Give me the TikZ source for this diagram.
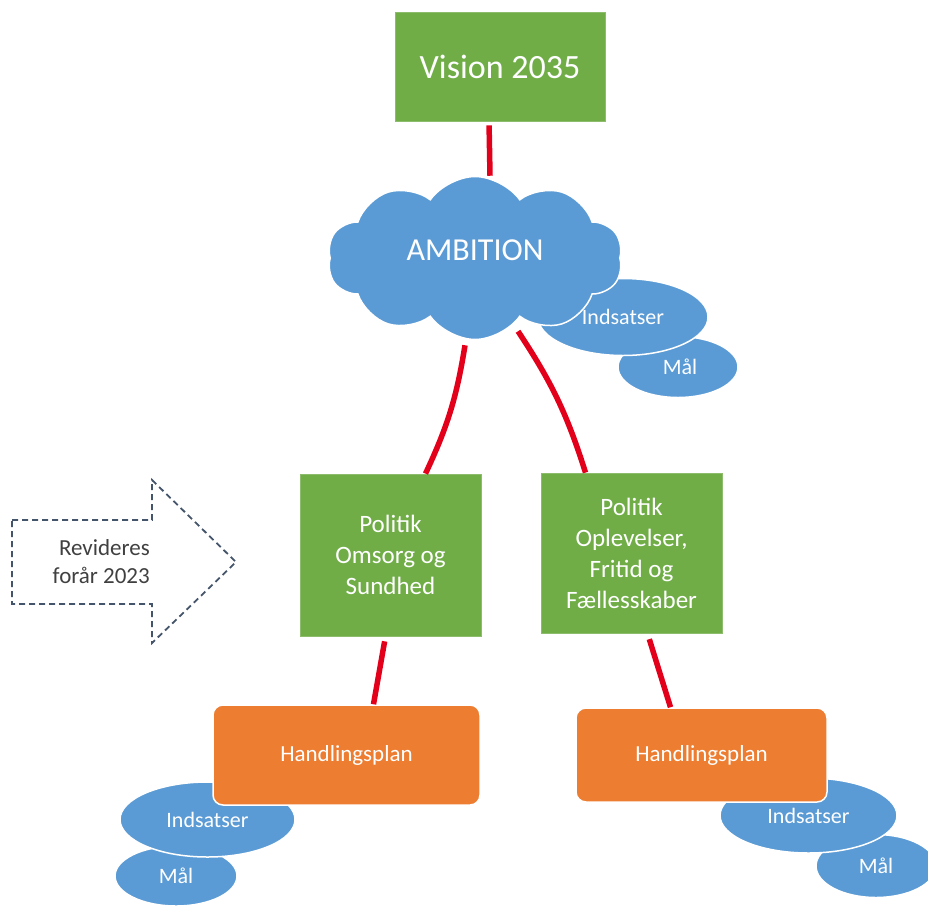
\documentclass[tikz,border=0pt]{standalone}
\usepackage{fontspec}
\setmainfont{Carlito}
\usetikzlibrary{shapes.symbols,shapes.geometric}
\definecolor{kgreen}{HTML}{70AD47}
\definecolor{kblue}{HTML}{5B9BD5}
\definecolor{korange}{HTML}{ED7D31}
\definecolor{kred}{HTML}{E2001A}
\definecolor{kslate}{HTML}{44546A}
\begin{document}
\begin{tikzpicture}[x=1pt, y=-1pt,
    every node/.style={text=white, inner sep=0pt},
    greenbox/.style={rectangle, fill=kgreen, draw=kgreen!80!white, line width=0.8pt, align=center, font=\fontsize{25}{31}\selectfont},
    planbox/.style={rectangle, fill=korange, draw=white, line width=1.5pt, rounded corners=10pt, font=\fontsize{23}{28}\selectfont},
    blob/.style={ellipse, fill=kblue, draw=white, line width=1.5pt, font=\fontsize{22}{26}\selectfont},
    link/.style={draw=kred, line width=5.5pt}]
    \useasboundingbox (0,0) rectangle (928,905);

    \node[greenbox, minimum width=210pt, minimum height=109pt, font=\fontsize{34}{40}\selectfont] (vision) at (500, 66.5) {Vision 2035};

    \node[blob, minimum width=120pt, minimum height=61pt] (amal) at (678, 367) {\hspace*{4pt}Mål};
    \node[blob, minimum width=170pt, minimum height=77pt] (aind) at (623, 317) {Indsatser};
    \node[cloud, cloud puffs=10, cloud puff arc=110, cloud ignores aspect, fill=kblue, draw=white, line width=1.5pt,
          minimum width=295pt, minimum height=163pt, font=\fontsize{32}{38}\selectfont] (ambition) at (475, 258) {\raisebox{16pt}{AMBITION}};

    \node[greenbox, minimum width=181pt, minimum height=162pt] (pol1) at (390.5, 555) {Politik\\Omsorg og\\Sundhed};
    \node[greenbox, minimum width=181pt, minimum height=160pt] (pol2) at (631.5, 553) {Politik\\Oplevelser,\\Fritid og\\Fællesskaber};

    \draw[kslate, line width=1.8pt, dash pattern=on 6pt off 4pt]
        (12,520) -- (152,520) -- (152,480) -- (236,562) -- (152,643) -- (152,604) -- (12,604) -- cycle;
    \node[text=black!75, anchor=east, align=right, font=\fontsize{23}{28}\selectfont] (revid) at (150, 562) {Revideres\\forår 2023};

    \node[blob, minimum width=122pt, minimum height=60pt] (lmal) at (176, 876) {Mål};
    \node[blob, minimum width=175pt, minimum height=75pt] (lind) at (207.5, 819.5) {Indsatser};
    \node[planbox, minimum width=267pt, minimum height=100pt] (hand1) at (346.5, 755) {Handlingsplan};

    \node[blob, minimum width=120pt, minimum height=63pt] (rmal) at (876, 866) {Mål};
    \node[blob, minimum width=177pt, minimum height=75pt] (rind) at (808.5, 815.5) {Indsatser};
    \node[planbox, minimum width=251pt, minimum height=94pt] (hand2) at (701.5, 755) {Handlingsplan};

    \draw[link, shorten <=4pt] ([xshift=-11pt]vision.south) -- ([xshift=15pt]ambition.north);
    \draw[link] ([xshift=-10pt, yshift=-5pt]ambition.south) to[bend left=8] ([xshift=35pt]pol1.north);
    \draw[link] ([xshift=43pt, yshift=9pt]ambition.south) to[bend left=8] ([xshift=-46pt]pol2.north);
    \draw[link, shorten <=5pt] ([xshift=-5pt]pol1.south) -- ([xshift=27pt]hand1.north);
    \draw[link, shorten <=6pt] ([xshift=16pt]pol2.south) -- ([xshift=-31pt]hand2.north);

  \end{tikzpicture}
\end{document}
